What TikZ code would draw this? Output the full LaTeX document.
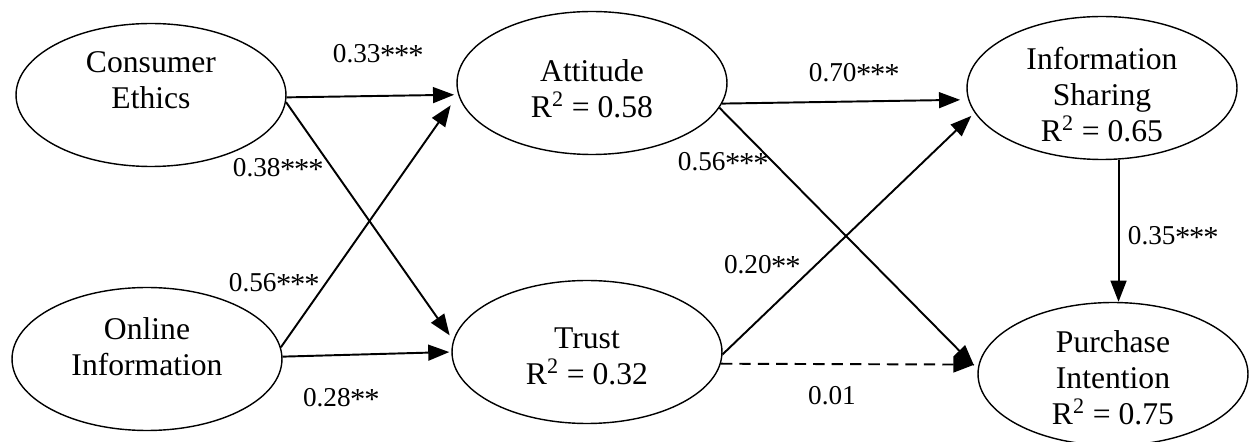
\documentclass[tikz,border=0pt]{standalone}
\usepackage{fontspec}
\usepackage{graphicx}
\setmainfont{Liberation Serif}
\usetikzlibrary{shapes.geometric,arrows.meta}
\newcommand\sigstar{\makebox[0.52em]{\raisebox{-0.1em}{\scalebox{1.12}{*}}}}
\tikzset{
  lv/.style={ellipse,draw,line width=0.8pt,minimum width=5.4cm,minimum height=2.86cm,inner sep=0pt},
  lvtext/.style={align=center,inner sep=0pt,font=\fontsize{18}{20.5}\selectfont},
  coef/.style={inner sep=0pt,font=\fontsize{15.5}{18}\selectfont},
  path/.style={line width=1.1pt,-{Triangle[length=12pt,width=9pt]}},
}
\begin{document}
\begin{tikzpicture}[x=0.02cm,y=-0.02cm]
\useasboundingbox (0,0) rectangle (1249,442);
% latent variables
\node[lv] (CE) at (151,95) {};
\node[lv] (Att) at (592,83) {};
\node[lv] (IS) at (1102,88) {};
\node[lv] (OI) at (147,359) {};
\node[lv] (Tr) at (587,352) {};
\node[lv] (PI) at (1113,374) {};
% texts
\node[lvtext] (CEt) at (151,80.5) {Consumer\\Ethics};
\node[lvtext] (Attt) at (592,88.5) {Attitude\\R\textsuperscript{2} = 0.58};
\node[lvtext] (ISt) at (1102,95) {Information\\Sharing\\R\textsuperscript{2} = 0.65};
\node[lvtext] (OIt) at (147,346.5) {Online\\Information};
\node[lvtext] (Trt) at (587,356.5) {Trust\\R\textsuperscript{2} = 0.32};
\node[lvtext] (PIt) at (1113,378) {Purchase\\Intention\\R\textsuperscript{2} = 0.75};
% paths
\draw[path,shorten >=0.08cm] (CE.-1.3) -- (Att.185.2);
\draw[path,shorten >=0.12cm] (CE.-3) -- (Tr.175.7);
\draw[path,shorten >=0.26cm] (OI.5.8) -- (Att.185.6);
\draw[path,shorten >=0.04cm] (OI.1.7) -- (Tr.180.4);
\draw[path,shorten >=0.16cm] (Att.-9.6) -- (IS.185.6);
\draw[path,shorten >=0.10cm] (Att.-11.6) -- (PI.178.4);
\draw[path,shorten >=0.09cm] (Tr.-1.3) -- (IS.191.1);
\draw[path,dash pattern=on 6.5pt off 4pt,shorten >=0.08cm] (Tr.-5.9) -- (PI.176.6);
\draw[path] (IS.-77.5) -- (IS.-77.5 |- PI.north);
% coefficients
\node[coef] (c1) at (378,55) {0.33\sigstar\sigstar\sigstar};
\node[coef] (c2) at (278,169) {0.38\sigstar\sigstar\sigstar};
\node[coef] (c3) at (274,284) {0.56\sigstar\sigstar\sigstar};
\node[coef] (c4) at (341,399) {0.28\sigstar\sigstar};
\node[coef] (c5) at (854,74) {0.70\sigstar\sigstar\sigstar};
\node[coef] (c6) at (723,163) {0.56\sigstar\sigstar\sigstar};
\node[coef] (c7) at (762,266) {0.20\sigstar\sigstar};
\node[coef] (c8) at (832,396) {0.01};
\node[coef] (c9) at (1173,237) {0.35\sigstar\sigstar\sigstar};
\end{tikzpicture}
\end{document}
